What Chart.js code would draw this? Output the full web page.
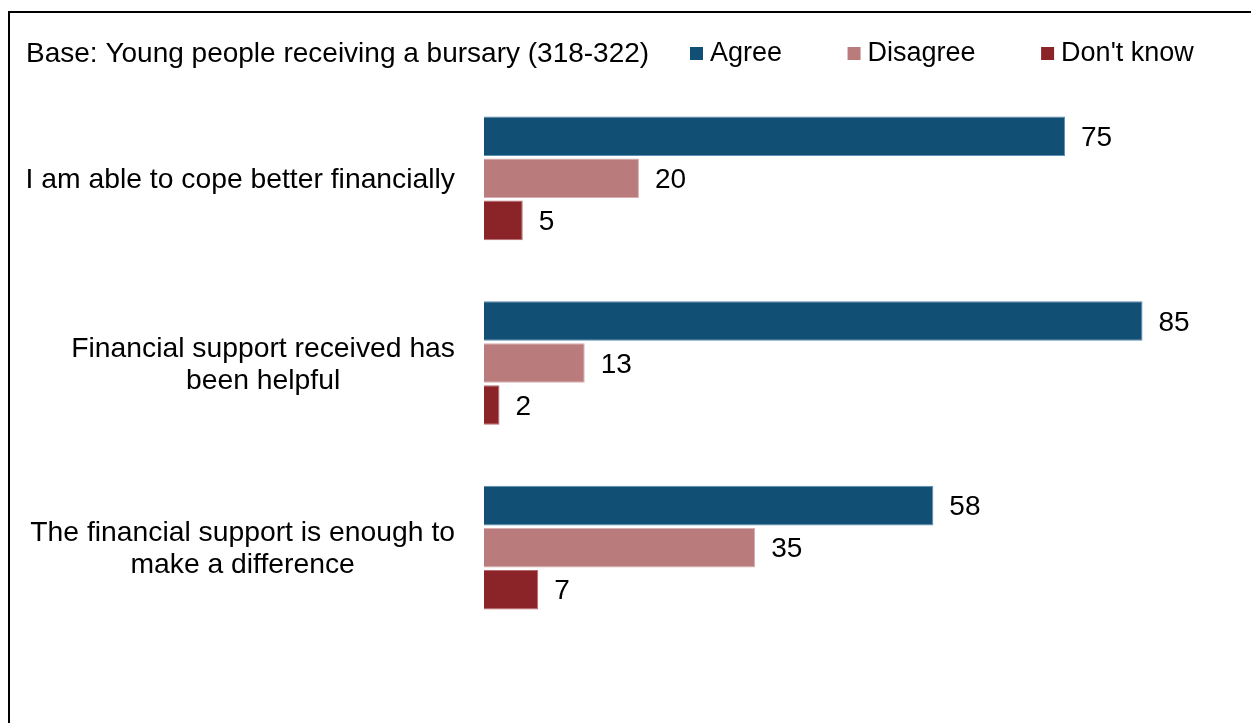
<!DOCTYPE html>
<html>
<head>
<meta charset="utf-8">
<script src="https://cdn.jsdelivr.net/npm/chart.js@4/dist/chart.umd.min.js"></script>
<style>
  html, body { margin: 0; padding: 0; background: #fff; overflow: hidden; }
  #wrap { position: relative; width: 1251px; height: 723px; }
  #frame {
    position: absolute; left: 8px; top: 11px;
    width: 1280px; height: 760px;
    border-left: 2px solid #000; border-top: 2px solid #000;
  }
  canvas { position: absolute; left: 0; top: 0; }
</style>
</head>
<body>
<div id="wrap">
  <div id="frame"></div>
  <canvas id="chart" width="1251" height="723"></canvas>
</div>
<script>
// Statements and survey responses (%)
const categories = [
  ['I am able to cope better financially'],
  ['Financial support received has', 'been helpful'],
  ['The financial support is enough to', 'make a difference']
];
const seriesNames = ['Agree', 'Disagree', "Don't know"];
const agree = [75, 85, 58];
const disagree = [20, 13, 35];
const dontKnow = [5, 2, 7];
const baseNote = 'Base: Young people receiving a bursary (318-322)';

const fills = ['#114f75', '#ba7b7c', '#8b2429'];
const edges = ['#5f8fb2', '#d9aeae', '#b86a6e'];
const FONT = '"Liberation Sans", Arial, sans-serif';

// Value labels to the right of each bar
const valueLabels = {
  id: 'valueLabels',
  afterDatasetsDraw(chart) {
    const ctx = chart.ctx;
    ctx.save();
    ctx.font = '28px ' + FONT;
    ctx.fillStyle = '#000';
    ctx.textBaseline = 'middle';
    ctx.textAlign = 'left';
    chart.data.datasets.forEach((ds, di) => {
      const meta = chart.getDatasetMeta(di);
      meta.data.forEach((bar, i) => {
        ctx.fillText(String(ds.data[i]), bar.x + 16, bar.y + 2);
      });
    });
    ctx.restore();
  }
};

// Category labels: block right-aligned against the bars, lines centred within the block
const categoryLabels = {
  id: 'categoryLabels',
  afterDraw(chart) {
    const ctx = chart.ctx;
    const yScale = chart.scales.y;
    const right = 455;
    const lineH = 32;
    ctx.save();
    ctx.font = '28.3px ' + FONT;
    ctx.fillStyle = '#000';
    ctx.textBaseline = 'middle';
    ctx.textAlign = 'center';
    chart.data.labels.forEach((lines, i) => {
      const yc = yScale.getPixelForTick(i);
      const w = Math.max(...lines.map(l => ctx.measureText(l).width));
      const cx = right - w / 2;
      const y0 = yc - (lines.length - 1) * lineH / 2;
      lines.forEach((l, k) => ctx.fillText(l, cx, y0 + k * lineH + 2));
    });
    ctx.restore();
  }
};

// Header line: base note on the left, series key on the right
const header = {
  id: 'header',
  afterDraw(chart) {
    const ctx = chart.ctx;
    const y = 53;
    ctx.save();
    ctx.fillStyle = '#000';
    ctx.textBaseline = 'middle';
    ctx.textAlign = 'left';
    ctx.font = '28px ' + FONT;
    ctx.fillText(baseNote, 26, y + 1);
    ctx.font = '27px ' + FONT;
    let x = 690;
    chart.data.datasets.forEach((ds) => {
      ctx.fillStyle = ds.backgroundColor;
      ctx.fillRect(x, y - 6, 13, 13);
      ctx.fillStyle = '#000';
      ctx.fillText(ds.label, x + 20, y + 1);
      x += 20 + ctx.measureText(ds.label).width + 65.5;
    });
    ctx.restore();
  }
};

const seriesValues = [agree, disagree, dontKnow];

new Chart(document.getElementById('chart'), {
  type: 'bar',
  data: {
    labels: categories,
    datasets: seriesNames.map((name, i) => ({
      label: name,
      data: seriesValues[i],
      backgroundColor: fills[i],
      borderColor: edges[i],
      borderWidth: 1,
      categoryPercentage: 0.683,
      barPercentage: 0.94
    }))
  },
  options: {
    indexAxis: 'y',
    responsive: false,
    animation: false,
    events: [],
    layout: { padding: { left: 484, right: 31, top: 86, bottom: 83 } },
    scales: {
      x: { display: false, min: 0, max: 95 },
      y: { display: false }
    },
    plugins: {
      legend: { display: false },
      tooltip: { enabled: false }
    }
  },
  plugins: [valueLabels, categoryLabels, header]
});
</script>
</body>
</html>
